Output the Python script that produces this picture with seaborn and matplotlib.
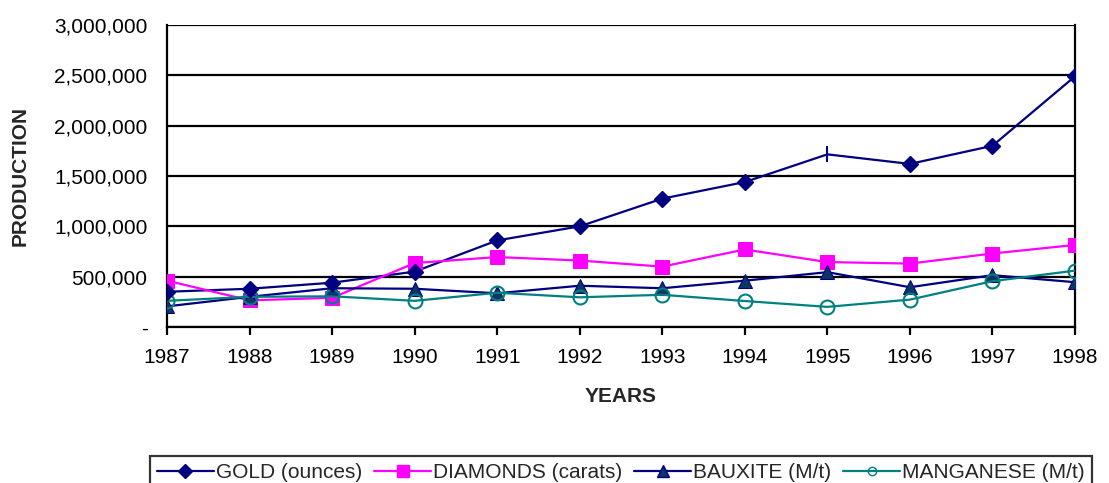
import numpy as np
import pandas as pd
import matplotlib
matplotlib.use("Agg")
import matplotlib.pyplot as plt
import seaborn as sns
from matplotlib.lines import Line2D
from matplotlib.ticker import FuncFormatter

years = [1987, 1988, 1989, 1990, 1991, 1992, 1993, 1994, 1995, 1996, 1997, 1998]
gold = [350000, 380000, 440000, 550000, 860000, 1000000, 1275000, 1440000, 1715000, 1620000, 1800000, 2490000]
diamonds = [460000, 265000, 290000, 635000, 695000, 660000, 600000, 770000, 645000, 630000, 730000, 815000]
bauxite = [205000, 300000, 385000, 380000, 335000, 410000, 385000, 460000, 545000, 395000, 515000, 445000]
manganese = [260000, 300000, 305000, 260000, 340000, 295000, 320000, 258000, 200000, 272000, 455000, 560000]

yticks = [0, 500000, 1000000, 1500000, 2000000, 2500000, 3000000]

sns.set_style("white")
plt.rcParams['font.family'] = ['Liberation Sans', 'DejaVu Sans']

fig = plt.figure(figsize=(11.09, 4.83), dpi=100)
ax = fig.add_axes([167 / 1109, 1 - 327 / 483, (1075 - 167) / 1109, (327 - 25) / 483])

df = pd.DataFrame({"year": years, "gold": gold, "diamonds": diamonds,
                   "bauxite": bauxite, "manganese": manganese})

navy = "#000080"
magenta = "#FF00FF"
teal = "#008080"
fs = 15

# gridlines first
for v in yticks:
    ax.axhline(v, color="black", lw=1.6, zorder=0)

# gold: diamond markers, except the 1995 point which shows a tick mark
gmask = df["year"] != 1995
sns.lineplot(data=df, x="year", y="gold", color=navy, lw=1.6, ax=ax, zorder=3)
ax.plot(df.loc[gmask, "year"], df.loc[gmask, "gold"], ls="none", marker="D",
        ms=8, color=navy, zorder=4)
ax.plot(df.loc[~gmask, "year"], df.loc[~gmask, "gold"], ls="none", marker="|",
        ms=12, mew=1.5, color=navy, zorder=4)

sns.lineplot(data=df, x="year", y="diamonds", color=magenta, lw=1.6, marker="s",
             markersize=10, markeredgecolor=magenta, ax=ax, zorder=3)
sns.lineplot(data=df, x="year", y="bauxite", color=navy, lw=1.6, marker="^",
             markersize=10, markerfacecolor="#0d3566", markeredgecolor=navy, ax=ax, zorder=3)
sns.lineplot(data=df, x="year", y="manganese", color=teal, lw=1.6, marker="o",
             markersize=10, markerfacecolor="none", markeredgecolor=teal, mew=1.5,
             ax=ax, zorder=3)

ax.set_xlim(1987, 1998)
ax.set_ylim(0, 3000000)
ax.set_xticks(years)
ax.set_xticklabels([str(y) for y in years])
ax.set_yticks(yticks)
ax.yaxis.set_major_formatter(FuncFormatter(lambda v, p: "-" if v == 0 else f"{int(v):,}"))
ax.tick_params(axis="both", labelsize=fs, colors="black")
ax.tick_params(axis="x", direction="out", length=6, width=1.6, bottom=True, pad=9)
ax.tick_params(axis="y", length=0, pad=14)

ax.spines["top"].set_visible(False)
for side in ["left", "right", "bottom"]:
    ax.spines[side].set_visible(True)
    ax.spines[side].set_color("black")
    ax.spines[side].set_linewidth(1.6)

ax.set_xlabel("YEARS", fontsize=fs, fontweight="bold", va="center")
ax.xaxis.set_label_coords(0.5, (327 - 397) / 302)
ax.set_ylabel("PRODUCTION", fontsize=fs, fontweight="bold", va="center")
ax.yaxis.set_label_coords((20 - 167) / 908, 0.5)

handles = [
    Line2D([], [], color=navy, lw=1.6, marker="D", ms=7),
    Line2D([], [], color=magenta, lw=1.6, marker="s", ms=8),
    Line2D([], [], color=navy, lw=1.6, marker="^", ms=8, markerfacecolor="#0d3566"),
    Line2D([], [], color=teal, lw=1.6, marker="o", ms=6, markerfacecolor="none"),
]
labels = ["GOLD (ounces)", "DIAMONDS (carats)", "BAUXITE (M/t)", "MANGANESE (M/t)"]
leg = fig.legend(handles, labels, loc="lower left", bbox_to_anchor=(150 / 1109, -0.014),
                 ncol=4, frameon=True, fancybox=False, fontsize=fs, handlelength=2.7,
                 handletextpad=0.1, columnspacing=0.6, borderpad=0.35, borderaxespad=0,
                 edgecolor="black")
leg.get_frame().set_linewidth(1.6)

fig.savefig("out.png", dpi=100)
